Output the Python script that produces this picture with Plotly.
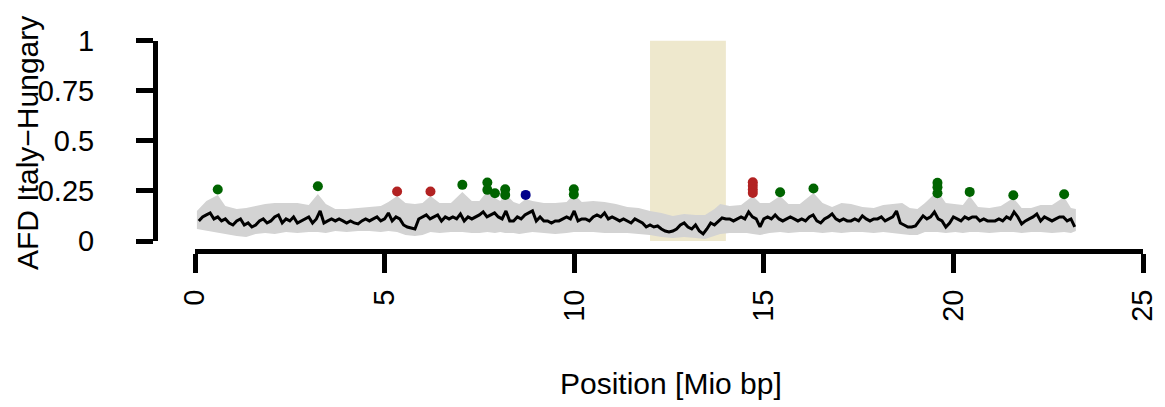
import plotly.graph_objects as go

# Sliding-window mean AFD (Italy vs Hungary), window centres in Mio bp
win_start = 0.1
win_step = 0.1
afd_mean = [
    0.10, 0.12, 0.13, 0.14, 0.11, 0.12, 0.10, 0.11, 0.09, 0.08,
    0.10, 0.11, 0.08, 0.09, 0.07, 0.08, 0.10, 0.11, 0.09, 0.10,
    0.12, 0.13, 0.09, 0.11, 0.10, 0.12, 0.09, 0.10, 0.11, 0.12,
    0.09, 0.11, 0.15, 0.09, 0.10, 0.11, 0.10, 0.11, 0.10, 0.09,
    0.10, 0.09, 0.085, 0.10, 0.11, 0.10, 0.11, 0.12, 0.10, 0.11,
    0.14, 0.10, 0.12, 0.11, 0.08, 0.07, 0.065, 0.06, 0.11, 0.12,
    0.13, 0.11, 0.12, 0.13, 0.10, 0.12, 0.11, 0.12, 0.11, 0.135,
    0.10, 0.12, 0.11, 0.12, 0.13, 0.145, 0.12, 0.13, 0.14, 0.12,
    0.11, 0.15, 0.10, 0.10, 0.12, 0.11, 0.13, 0.14, 0.15, 0.10,
    0.12, 0.10, 0.10, 0.09, 0.10, 0.10, 0.11, 0.12, 0.11, 0.15,
    0.10, 0.11, 0.11, 0.10, 0.12, 0.13, 0.12, 0.14, 0.11, 0.12,
    0.11, 0.10, 0.11, 0.10, 0.09, 0.11, 0.10, 0.09, 0.07, 0.08,
    0.07, 0.075, 0.06, 0.05, 0.045, 0.05, 0.06, 0.08, 0.09, 0.07,
    0.06, 0.08, 0.05, 0.035, 0.06, 0.09, 0.08, 0.10, 0.115, 0.11,
    0.11, 0.10, 0.11, 0.12, 0.11, 0.145, 0.12, 0.11, 0.07, 0.11,
    0.12, 0.11, 0.13, 0.11, 0.10, 0.11, 0.12, 0.11, 0.10, 0.11,
    0.10, 0.12, 0.13, 0.10, 0.09, 0.11, 0.12, 0.135, 0.11, 0.10,
    0.11, 0.10, 0.10, 0.11, 0.10, 0.125, 0.11, 0.10, 0.11, 0.11,
    0.12, 0.10, 0.11, 0.12, 0.15, 0.09, 0.08, 0.07, 0.07, 0.075,
    0.10, 0.125, 0.11, 0.12, 0.145, 0.11, 0.10, 0.07, 0.09, 0.12,
    0.11, 0.10, 0.12, 0.11, 0.12, 0.12, 0.10, 0.11, 0.10, 0.10,
    0.10, 0.11, 0.10, 0.12, 0.11, 0.145, 0.12, 0.085, 0.10, 0.11,
    0.12, 0.135, 0.10, 0.12, 0.11, 0.10, 0.11, 0.12, 0.12, 0.10,
    0.11, 0.07,
]

# Spread of AFD around the mean (shaded band)
band_pos = [
    0.05, 0.3, 0.6, 0.8, 1.1, 1.35, 1.6, 1.85, 2.1, 2.4, 2.7, 3.0, 3.24, 3.45,
    3.7, 4.0, 4.3, 4.6, 4.9, 5.1, 5.33, 5.55, 5.8, 6.0, 6.21, 6.45, 6.75, 7.05,
    7.3, 7.5, 7.71, 7.91, 8.05, 8.18, 8.4, 8.55, 8.72, 8.9, 9.2, 9.5, 9.8, 9.99,
    10.2, 10.5, 10.8, 11.1, 11.4, 11.7, 12.0, 12.3, 12.6, 12.9, 13.2, 13.45,
    13.7, 13.85, 14.1, 14.4, 14.55, 14.71, 14.9, 15.15, 15.43, 15.65, 15.95,
    16.31, 16.55, 16.8, 17.05, 17.3, 17.6, 17.9, 18.15, 18.45, 18.65, 18.85,
    19.05, 19.25, 19.58, 19.8, 20.05, 20.25, 20.43, 20.65, 20.95, 21.25, 21.58,
    21.8, 22.05, 22.3, 22.6, 22.92, 23.1, 23.23,
]
band_upper = [
    0.15, 0.20, 0.23, 0.175, 0.16, 0.165, 0.175, 0.185, 0.19, 0.19, 0.19, 0.18, 0.235, 0.185,
    0.16, 0.16, 0.165, 0.17, 0.175, 0.195, 0.225, 0.19, 0.185, 0.19, 0.225, 0.19, 0.19, 0.245,
    0.20, 0.20, 0.25, 0.215, 0.20, 0.235, 0.195, 0.185, 0.21, 0.20, 0.19, 0.19, 0.195, 0.235,
    0.195, 0.20, 0.195, 0.185, 0.17, 0.165, 0.15, 0.14, 0.125, 0.135, 0.13, 0.13,
    0.16, 0.185, 0.175, 0.18, 0.20, 0.225, 0.19, 0.19, 0.225, 0.185, 0.185,
    0.24, 0.19, 0.17, 0.19, 0.185, 0.17, 0.165, 0.18, 0.185, 0.19, 0.165,
    0.16, 0.19, 0.25, 0.19, 0.185, 0.18, 0.225, 0.17, 0.165, 0.175, 0.215,
    0.165, 0.165, 0.18, 0.18, 0.22, 0.165, 0.16,
]
band_lower = [
    0.06, 0.05, 0.04, 0.035, 0.025, 0.02, 0.035, 0.04, 0.035, 0.045, 0.04, 0.045, 0.045, 0.04,
    0.05, 0.045, 0.05, 0.05, 0.045, 0.05, 0.045, 0.03, 0.025, 0.03, 0.045, 0.04, 0.045, 0.045,
    0.04, 0.04, 0.045, 0.04, 0.045, 0.04, 0.04, 0.035, 0.04, 0.045, 0.04, 0.035, 0.04, 0.045,
    0.045, 0.045, 0.04, 0.04, 0.04, 0.035, 0.03, 0.02, 0.015, 0.02, 0.015, 0.01,
    0.025, 0.035, 0.04, 0.04, 0.04, 0.035, 0.03, 0.04, 0.045, 0.04, 0.045,
    0.045, 0.04, 0.045, 0.04, 0.045, 0.045, 0.04, 0.045, 0.04, 0.035, 0.03,
    0.03, 0.045, 0.045, 0.04, 0.045, 0.04, 0.045, 0.045, 0.04, 0.045, 0.045,
    0.04, 0.045, 0.045, 0.04, 0.045, 0.04, 0.05,
]

# Outlier SNPs by class
green_pos = [0.60, 3.24, 7.05, 7.71, 7.71, 7.91, 8.18, 8.18, 9.99, 9.99,
             15.43, 16.31, 19.58, 19.58, 19.58, 20.43, 21.58, 22.92]
green_afd = [0.257, 0.273, 0.28, 0.292, 0.255, 0.238, 0.258, 0.23, 0.258, 0.232,
             0.243, 0.262, 0.29, 0.268, 0.238, 0.245, 0.228, 0.233]
red_pos = [5.33, 6.21, 14.71, 14.71, 14.71, 14.71]
red_afd = [0.247, 0.247, 0.293, 0.275, 0.257, 0.24]
blue_pos = [8.72]
blue_afd = [0.23]

# Highlighted region (Mio bp)
region = [12.0, 14.0]

x_ticks = [0, 5, 10, 15, 20, 25]
y_ticks = [0, 0.25, 0.5, 0.75, 1]
y_ticktext = ["0", "0.25", "0.5", "0.75", "1"]

W, H = 1165, 407
FONT = "Liberation Sans, Arial, sans-serif"

win_pos = [round(win_start + i * win_step, 2) for i in range(len(afd_mean))]

fig = go.Figure()

fig.add_trace(go.Scatter(
    x=band_pos + band_pos[::-1],
    y=band_upper + band_lower[::-1],
    fill="toself", fillcolor="#D3D3D3", mode="lines",
    line=dict(width=0, color="#D3D3D3"), hoverinfo="skip", showlegend=False,
))
fig.add_trace(go.Scatter(
    x=win_pos, y=afd_mean, mode="lines",
    line=dict(color="black", width=3), showlegend=False,
))
for xs, ys, col in [(green_pos, green_afd, "#006400"),
                    (red_pos, red_afd, "#B22222"),
                    (blue_pos, blue_afd, "#00008B")]:
    fig.add_trace(go.Scatter(
        x=xs, y=ys, mode="markers",
        marker=dict(color=col, size=10, line=dict(width=0)), showlegend=False,
    ))

fig.add_shape(type="rect", xref="x", yref="y",
              x0=region[0], x1=region[1], y0=-0.005, y1=1.0,
              fillcolor="#EEE8CD", line=dict(width=0), layer="below")

x_dom = [195 / W, 1143 / W]
y_dom = [(H - 241) / H, (H - 40.5) / H]

fig.update_layout(
    width=W, height=H,
    margin=dict(l=0, r=0, t=0, b=0, autoexpand=False),
    paper_bgcolor="white", plot_bgcolor="white",
    font=dict(family=FONT, size=29, color="black"),
    xaxis=dict(
        domain=x_dom, range=[0, 25], anchor="free", position=(H - 251) / H,
        automargin=False,
        showgrid=False, zeroline=False, showline=True, linewidth=5, linecolor="black",
        ticks="outside", ticklen=19, tickwidth=5, tickcolor="black",
        tickvals=x_ticks, tickangle=-90, ticklabelstandoff=5,
        tickfont=dict(family=FONT, size=29),
    ),
    yaxis=dict(
        domain=y_dom, range=[0, 1], anchor="free", position=155 / W,
        automargin=False,
        showgrid=False, zeroline=False, showline=True, linewidth=5, linecolor="black",
        ticks="outside", ticklen=17, tickwidth=5, tickcolor="black",
        tickvals=y_ticks, ticktext=y_ticktext, ticklabelstandoff=36,
        tickfont=dict(family=FONT, size=29),
    ),
    annotations=[
        dict(text="Position [Mio bp]", xref="paper", yref="paper",
             x=671 / W, y=(H - 383) / H, xanchor="center", yanchor="middle",
             showarrow=False, font=dict(family=FONT, size=30)),
        dict(text="AFD Italy\u2212Hungary", xref="paper", yref="paper",
             x=28 / W, y=(H - 143) / H, xanchor="center", yanchor="middle",
             textangle=-90, showarrow=False, font=dict(family=FONT, size=30)),
    ],
)

fig.write_html("out.html")
